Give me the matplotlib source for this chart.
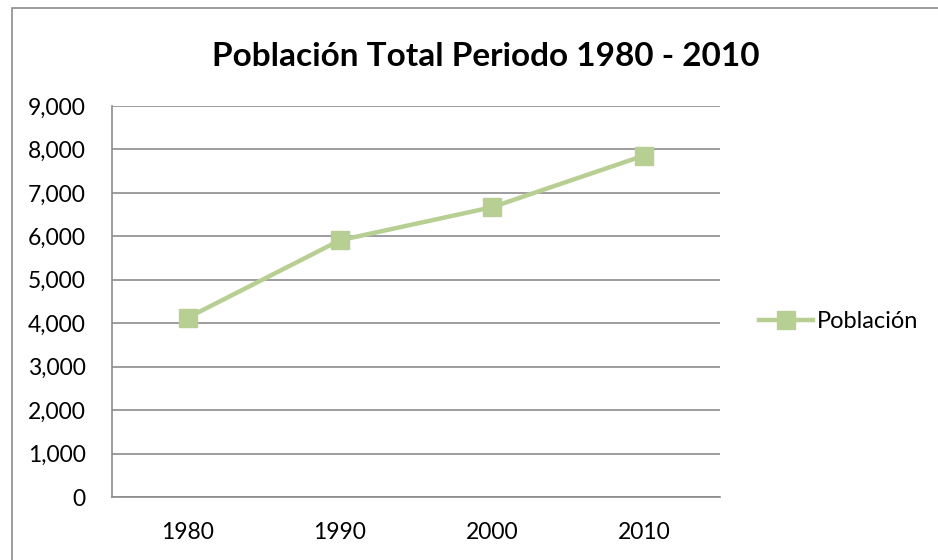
import matplotlib.pyplot as plt
import matplotlib.patches as patches
import matplotlib.ticker as ticker

plt.rcParams['font.family'] = ['Lato', 'DejaVu Sans']

years = ['1980', '1990', '2000', '2010']
poblacion = [4130, 5910, 6670, 7860]

line_color = '#b8cf93'
grid_color = '#8c8c8c'

W, H = 938, 560
fig = plt.figure(figsize=(W / 100, H / 100), dpi=100)

# outer chart border (runs off the right and bottom edges)
fig.patches.append(patches.Rectangle((12 / W, -0.1), 1.2, 1.1 - 8 / H, transform=fig.transFigure,
                                     fill=False, edgecolor=grid_color, linewidth=1.2))

ax = fig.add_axes([112 / W, 1 - 497 / H, (720 - 112) / W, (497 - 106) / H])
x = list(range(len(years)))
ax.plot(x, poblacion, color=line_color, linewidth=3.2, marker='s', markersize=13,
        label='Población', zorder=3)

ax.set_xlim(-0.5, 3.5)
ax.set_ylim(0, 9000)
ax.set_xticks(x)
ax.set_xticklabels(years)
ax.yaxis.set_major_locator(ticker.MultipleLocator(1000))
ax.yaxis.set_major_formatter(ticker.StrMethodFormatter('{x:,.0f}'))
ax.grid(axis='y', color=grid_color, linewidth=1.2)
ax.set_axisbelow(True)

for s in ['top', 'right']:
    ax.spines[s].set_visible(False)
for s in ['left', 'bottom']:
    ax.spines[s].set_color(grid_color)
    ax.spines[s].set_linewidth(1.2)

ax.tick_params(axis='y', length=0, labelsize=16.5, pad=19)
ax.tick_params(axis='x', length=0, labelsize=16.5, pad=18)

fig.text(486 / W, 1 - 57 / H, 'Población Total Periodo 1980 - 2010', ha='center', va='center',
         fontsize=24, fontweight='bold')

ax.legend(loc='center left', bbox_to_anchor=(759 / W, 1 - 322 / H), bbox_transform=fig.transFigure,
          frameon=False, fontsize=17, handlelength=2.3, handletextpad=0.15, borderpad=0,
          borderaxespad=0)

fig.savefig('out.png', dpi=100)
